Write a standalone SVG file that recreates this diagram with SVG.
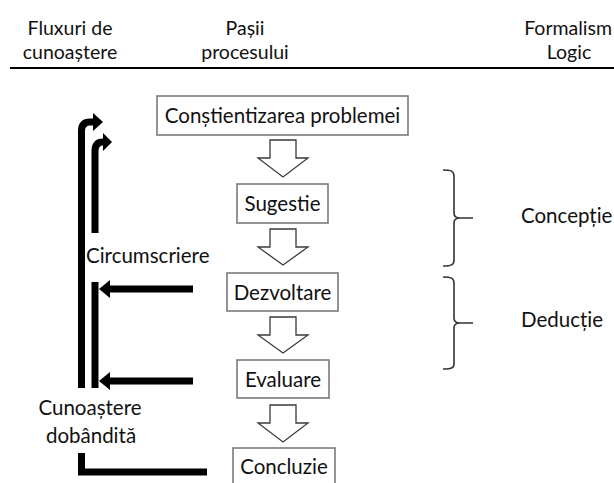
<svg xmlns="http://www.w3.org/2000/svg" width="614" height="483" viewBox="0 0 614 483">
  <style>
    text { font-family: Lato, "Open Sans", sans-serif; fill: #111; }
    .hdr { font-size: 19.5px; text-anchor: middle; }
    .lbl { font-size: 20.5px; }
    .mid { text-anchor: middle; }
    .end { text-anchor: end; }
    .box { fill: #fff; stroke: #7a7a7a; stroke-width: 1.6; }
    .step { fill: #fff; stroke: #3a3a3a; stroke-width: 1.3; stroke-linejoin: miter; }
    .flow { fill: none; stroke: #000; stroke-width: 7; }
    .head { fill: #000; }
    .brace { fill: none; stroke: #333; stroke-width: 1.6; }
  </style>

  <!-- column headings -->
  <g id="headings">
    <text class="hdr" x="70" y="35">Fluxuri  de</text>
    <text class="hdr" x="70" y="59">cunoaștere</text>
    <text class="hdr" x="245" y="35">Pașii</text>
    <text class="hdr" x="245" y="59">procesului</text>
    <text class="hdr end" x="612" y="35">Formalism</text>
    <text class="hdr" x="569" y="59">Logic</text>
    <line x1="10" y1="68" x2="614" y2="68" stroke="#000" stroke-width="2.2"/>
  </g>

  <!-- process steps -->
  <g id="step-awareness">
    <rect class="box" x="157" y="96" width="251" height="39"/>
    <text class="lbl mid" x="282.5" y="122.5">Conștientizarea problemei</text>
  </g>
  <g id="step-suggestion">
    <rect class="box" x="237" y="184" width="91" height="39"/>
    <text class="lbl mid" x="282.5" y="210.5">Sugestie</text>
  </g>
  <g id="step-development">
    <rect class="box" x="227" y="273" width="111" height="38"/>
    <text class="lbl mid" x="282.5" y="299.5">Dezvoltare</text>
  </g>
  <g id="step-evaluation">
    <rect class="box" x="237" y="360" width="92" height="38"/>
    <text class="lbl mid" x="283" y="386.5">Evaluare</text>
  </g>
  <g id="step-conclusion">
    <rect class="box" x="233" y="448" width="102" height="45"/>
    <text class="lbl mid" x="284" y="474">Concluzie</text>
  </g>

  <!-- side labels -->
  <g id="label-circumscription">
    <text class="lbl" x="86" y="263">Circumscriere</text>
  </g>
  <g id="label-knowledge">
    <text class="lbl mid" x="90" y="415">Cunoaștere</text>
    <text class="lbl mid" x="91" y="443">dobândită</text>
  </g>
  <g id="label-conception">
    <text class="lbl" x="521" y="223">Concepție</text>
  </g>
  <g id="label-deduction">
    <text class="lbl" x="521" y="327">Deducție</text>
  </g>

  <!-- braces grouping the steps -->
  <g id="braces">
    <path class="brace" d="M443 170 C451 170 454 171 454 176 V213 C454 217 456 218 460 218 H473 M460 218 C456 218 454 219 454 223 V260 C454 265 451 266 443 266"/>
    <path class="brace" d="M443 277 C451 277 454 278 454 283 V318 C454 322 456 323 460 323 H473 M460 323 C456 323 454 324 454 328 V364 C454 368 451 369 443 369"/>
  </g>

  <!-- connectors -->
  <g id="connectors">
    <!-- block arrows between steps -->
    <path class="step" d="M270 140 H296 V158 H308 L283 177 L258 158 H270 Z"/>
    <path class="step" d="M270 229 H296 V247 H308 L283 265 L258 247 H270 Z"/>
    <path class="step" d="M270 317 H296 V335 H308 L283 353 L258 335 H270 Z"/>
    <path class="step" d="M270 405 H296 V423 H308 L283 442 L258 423 H270 Z"/>

    <!-- knowledge flows back to the start -->
    <path class="flow" d="M81.5 388 V131 Q81.5 122 90 122 H95"/>
    <polygon class="head" points="93,113 103,122 93,131"/>
    <path class="flow" d="M95 233 V151 Q95 142 103 142 H105"/>
    <polygon class="head" points="103,133 112,142 103,151"/>
    <path class="flow" d="M95 282 V388"/>

    <!-- circumscription from development and evaluation -->
    <path class="flow" d="M193 289 H108"/>
    <polygon class="head" points="110,280 99,289 110,298"/>
    <path class="flow" d="M193 381 H108"/>
    <polygon class="head" points="110,372 99,381 110,390"/>

    <!-- conclusion feeds acquired knowledge -->
    <path class="flow" d="M81.5 453 V472 H207"/>
  </g>
</svg>
